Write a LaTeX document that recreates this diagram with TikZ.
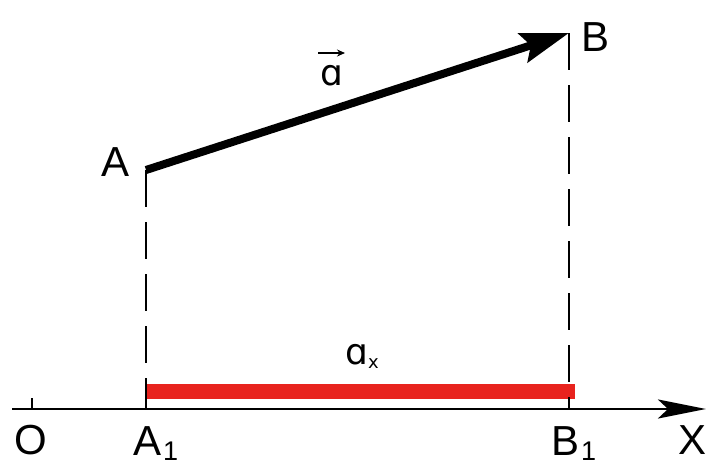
\documentclass[tikz,border=0pt]{standalone}
\usepackage{fontspec}
\setmainfont{Liberation Sans}
\newfontfamily\ipafont{DejaVu Sans}
\usetikzlibrary{arrows.meta}
\definecolor{barred}{HTML}{E8231E}
\tikzset{
  lbl/.style={inner sep=0pt, font=\fontsize{42}{42}\selectfont},
  vecl/.style={inner sep=0pt, font=\ipafont\fontsize{36}{36}\selectfont},
  dashline/.style={line width=2.6pt, dash pattern=on 37pt off 15pt},
  axisline/.style={line width=2.8pt, -{Stealth[length=48pt,width=19pt,inset=10pt]}},
  vecline/.style={line width=8pt, -{Stealth[length=48pt,width=30pt,inset=8pt]}},
}
\newcommand{\lowone}{\hspace{2pt}\raisebox{-5pt}{\fontsize{27}{27}\selectfont 1}}
\begin{document}
\begin{tikzpicture}[x=1pt,y=-1pt]
\useasboundingbox (0,0) rectangle (707,466);
% points
\coordinate (A) at (146,170);
\coordinate (B) at (569,33);
\coordinate (A1) at (146,409);
\coordinate (B1) at (569,409);
\coordinate (ax0) at (12,409);
\coordinate (ax1) at (706,409);
\coordinate (O) at (32,409);
\coordinate (Otop) at (32,398);
\coordinate (Rl) at (146,391);
\coordinate (Rr) at (575,391);
% red bar
\draw[barred, line width=15pt] (Rl) -- (Rr);
% dashed projections
\draw[dashline] (A) -- (A1);
\draw[dashline] (B) -- (B1);
% axis
\draw[axisline] (ax0) -- (ax1);
\draw[line width=2pt] (O) -- (Otop);
% vector
\draw[vecline] (A) -- (B);
% labels
\node[lbl] (Alab) at (116,162) {A};
\node[lbl] (Blab) at (596,37) {B};
\node[lbl] (Olab) at (31,440) {O};
\node[lbl, anchor=base west] (A1lab) at (133,455) {A\lowone};
\node[lbl, anchor=base west] (B1lab) at (551,455) {B\lowone};
\node[lbl] (Xlab) at (692,440) {X};
\node[vecl, anchor=base] (alab) at (332,85) {ɑ};
\coordinate (vl) at (318,53);
\coordinate (vr) at (345,53);
\draw[line width=2pt, -{Stealth[length=8pt,width=7pt]}] (vl) -- (vr);
\node[vecl, anchor=base west] (axlab) at (345,364) {ɑ\raisebox{-4pt}{\fontsize{18}{18}\selectfont x}};
\end{tikzpicture}
\end{document}
